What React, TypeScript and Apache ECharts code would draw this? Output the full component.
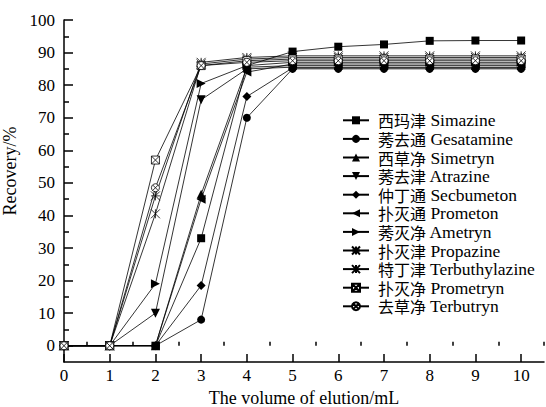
import React, { useEffect, useRef } from "react";
import * as echarts from "echarts";

const volumes = [0, 1, 2, 3, 4, 5, 6, 7, 8, 9, 10];
const seriesNames = [
  "西玛津 Simazine",
  "莠去通 Gesatamine",
  "西草净 Simetryn",
  "莠去津 Atrazine",
  "仲丁通 Secbumeton",
  "扑灭通 Prometon",
  "莠灭净 Ametryn",
  "扑灭津 Propazine",
  "特丁津 Terbuthylazine",
  "扑灭净 Prometryn",
  "去草净 Terbutryn",
];
const simazine = [0, 0, 0, 33, 86, 90.3, 91.8, 92.5, 93.6, 93.7, 93.7];
const gesatamine = [0, 0, 0, 8, 70, 85, 85, 85, 85, 85, 85];
const simetryn = [0, 0, 0, 46.5, 85.5, 86, 86, 86, 86, 86, 86];
const atrazine = [0, 0, 10, 75.5, 85, 85.5, 85.5, 85.5, 85.5, 85.5, 85.5];
const secbumeton = [0, 0, 0, 18.5, 76.5, 85.3, 85.3, 85.3, 85.3, 85.3, 85.3];
const prometon = [0, 0, 0, 45, 84, 86.5, 86.5, 86.5, 86.5, 86.5, 86.5];
const ametryn = [0, 0, 19, 80.5, 86, 87, 87, 87, 87, 87, 87];
const propazine = [0, 0, 46, 87, 88.5, 89, 89, 89, 89, 89, 89];
const terbuthylazine = [0, 0, 40.5, 86.5, 88, 88.5, 88.5, 88.5, 88.5, 88.5, 88.5];
const prometryn = [0, 0, 57, 86, 87.5, 88, 88, 88, 88, 88, 88];
const terbutryn = [0, 0, 48.5, 86, 87, 87.5, 87.5, 87.5, 87.5, 87.5, 87.5];
const xTickLabels = [0, 1, 2, 3, 4, 5, 6, 7, 8, 9, 10];
const xMinorTicks = [0.5, 1.5, 2.5, 3.5, 4.5, 5.5, 6.5, 7.5, 8.5, 9.5, 10.5];
const yTickLabels = [0, 10, 20, 30, 40, 50, 60, 70, 80, 90, 100];
const yMinorTicks = [5, 15, 25, 35, 45, 55, 65, 75, 85, 95];

const allData = [
  simazine, gesatamine, simetryn, atrazine, secbumeton, prometon,
  ametryn, propazine, terbuthylazine, prometryn, terbutryn,
];

const FONT = "'Liberation Serif', 'Times New Roman', serif";
const CJK = "'Noto Sans CJK SC', sans-serif";

const starA = "path://M0,0 L10,10 M10,0 L0,10 M5,0 L5,10 M0,5 L10,5";
const starB = "path://M0,0 L10,10 M10,0 L0,10 M5,0 L5,10";
const boxX = "path://M0,0 L10,0 L10,10 L0,10 Z M0,0 L10,10 M10,0 L0,10";
const circX =
  "path://M5,0 A5,5 0 1 1 4.99,0 Z M1.5,1.5 L8.5,8.5 M8.5,1.5 L1.5,8.5";

const symbols: any[] = [
  { symbol: "rect", size: 8, rotate: 0, open: false },
  { symbol: "circle", size: 8, rotate: 0, open: false },
  { symbol: "triangle", size: 9, rotate: 0, open: false },
  { symbol: "triangle", size: 9, rotate: 180, open: false },
  { symbol: "diamond", size: 9, rotate: 0, open: false },
  { symbol: "triangle", size: 9, rotate: 90, open: false },
  { symbol: "triangle", size: 9, rotate: -90, open: false },
  { symbol: starA, size: 9, rotate: 0, open: true },
  { symbol: starB, size: 9, rotate: 0, open: true },
  { symbol: boxX, size: 8, rotate: 0, open: true },
  { symbol: circX, size: 8, rotate: 0, open: true },
];

export default function App() {
  const ref = useRef<HTMLDivElement>(null);
  useEffect(() => {
    if (!ref.current) return;
    const chart = echarts.init(ref.current, undefined, { renderer: "svg" });
    const series = seriesNames.map((name, i) => ({
      name,
      type: "line",
      xAxisIndex: 0,
      yAxisIndex: 0,
      data: volumes.map((v, j) => [v, allData[i][j]]),
      symbol: symbols[i].symbol,
      symbolSize: symbols[i].size,
      symbolRotate: symbols[i].rotate,
      showAllSymbol: true,
      lineStyle: { color: "#000", width: 0.8 },
      itemStyle: symbols[i].open
        ? { color: "#fff", borderColor: "#000", borderWidth: 0.8 }
        : { color: "#000", borderColor: "#000", borderWidth: 0 },
      emphasis: { disabled: true },
      z: 2 + i,
    }));
    chart.setOption({
      animation: false,
      textStyle: { fontFamily: FONT, color: "#000" },
      grid: { left: 64, right: 2, top: 20, bottom: 45, outerBoundsMode: "none", containLabel: false },
      legend: {
        orient: "vertical",
        left: 337,
        top: 106,
        itemWidth: 26,
        itemHeight: 10,
        itemGap: 0,
        data: seriesNames,
        formatter: (name: string) => {
          const k = name.indexOf(" ");
          return `{cn|${name.slice(0, k)}}{en| ${name.slice(k + 1)}}`;
        },
        textStyle: {
          fontFamily: FONT,
          fontSize: 17,
          color: "#000",
          lineHeight: 18.6,
          rich: {
            cn: { fontFamily: CJK, fontSize: 16, lineHeight: 18.6, color: "#000", padding: [0, 0, 0, 4] },
            en: { fontFamily: FONT, fontSize: 17.5, lineHeight: 18.6, color: "#000" },
          },
        },
      },
      xAxis: [
        {
          type: "value",
          min: 0,
          max: 10.5,
          interval: 1,
          name: "The volume of elution/mL",
          nameLocation: "middle",
          nameGap: 25,
          nameTextStyle: { fontFamily: FONT, fontSize: 18, color: "#000" },
          axisLine: { show: true, onZero: false, lineStyle: { color: "#000", width: 1.5 } },
          axisTick: {
            show: true,
            inside: true,
            length: 8,
            customValues: xTickLabels,
            lineStyle: { color: "#000", width: 1.5 },
          },
          axisLabel: {
            customValues: xTickLabels,
            fontFamily: FONT,
            fontSize: 17,
            color: "#000",
            margin: 5,
          },
          splitLine: { show: false },
        },
        {
          type: "value",
          min: 0,
          max: 10.5,
          position: "bottom",
          axisLine: { show: false },
          axisTick: {
            show: true,
            inside: true,
            length: 4,
            customValues: xMinorTicks,
            lineStyle: { color: "#000", width: 1.5 },
          },
          axisLabel: { show: false },
          splitLine: { show: false },
        },
      ],
      yAxis: [
        {
          type: "value",
          min: -5,
          max: 100,
          name: "Recovery/%",
          nameLocation: "middle",
          nameGap: 38,
          nameTextStyle: {
            fontFamily: FONT,
            fontSize: 18,
            color: "#000",
            padding: [0, 0, 0, 40],
          },
          axisLine: { show: true, onZero: false, lineStyle: { color: "#000", width: 1.5 } },
          axisTick: {
            show: true,
            inside: true,
            length: 9,
            customValues: yTickLabels,
            lineStyle: { color: "#000", width: 1.5 },
          },
          axisLabel: {
            customValues: yTickLabels,
            fontFamily: FONT,
            fontSize: 17,
            color: "#000",
            margin: 9,
          },
          splitLine: { show: false },
        },
        {
          type: "value",
          min: -5,
          max: 100,
          position: "left",
          axisLine: { show: false },
          axisTick: {
            show: true,
            inside: true,
            length: 5,
            customValues: yMinorTicks,
            lineStyle: { color: "#000", width: 1.5 },
          },
          axisLabel: { show: false },
          splitLine: { show: false },
        },
      ],
      series,
    });
    return () => chart.dispose();
  }, []);
  return <div ref={ref} style={{ width: 546, height: 407, position: "absolute", left: 0, top: 0 }} />;
}
